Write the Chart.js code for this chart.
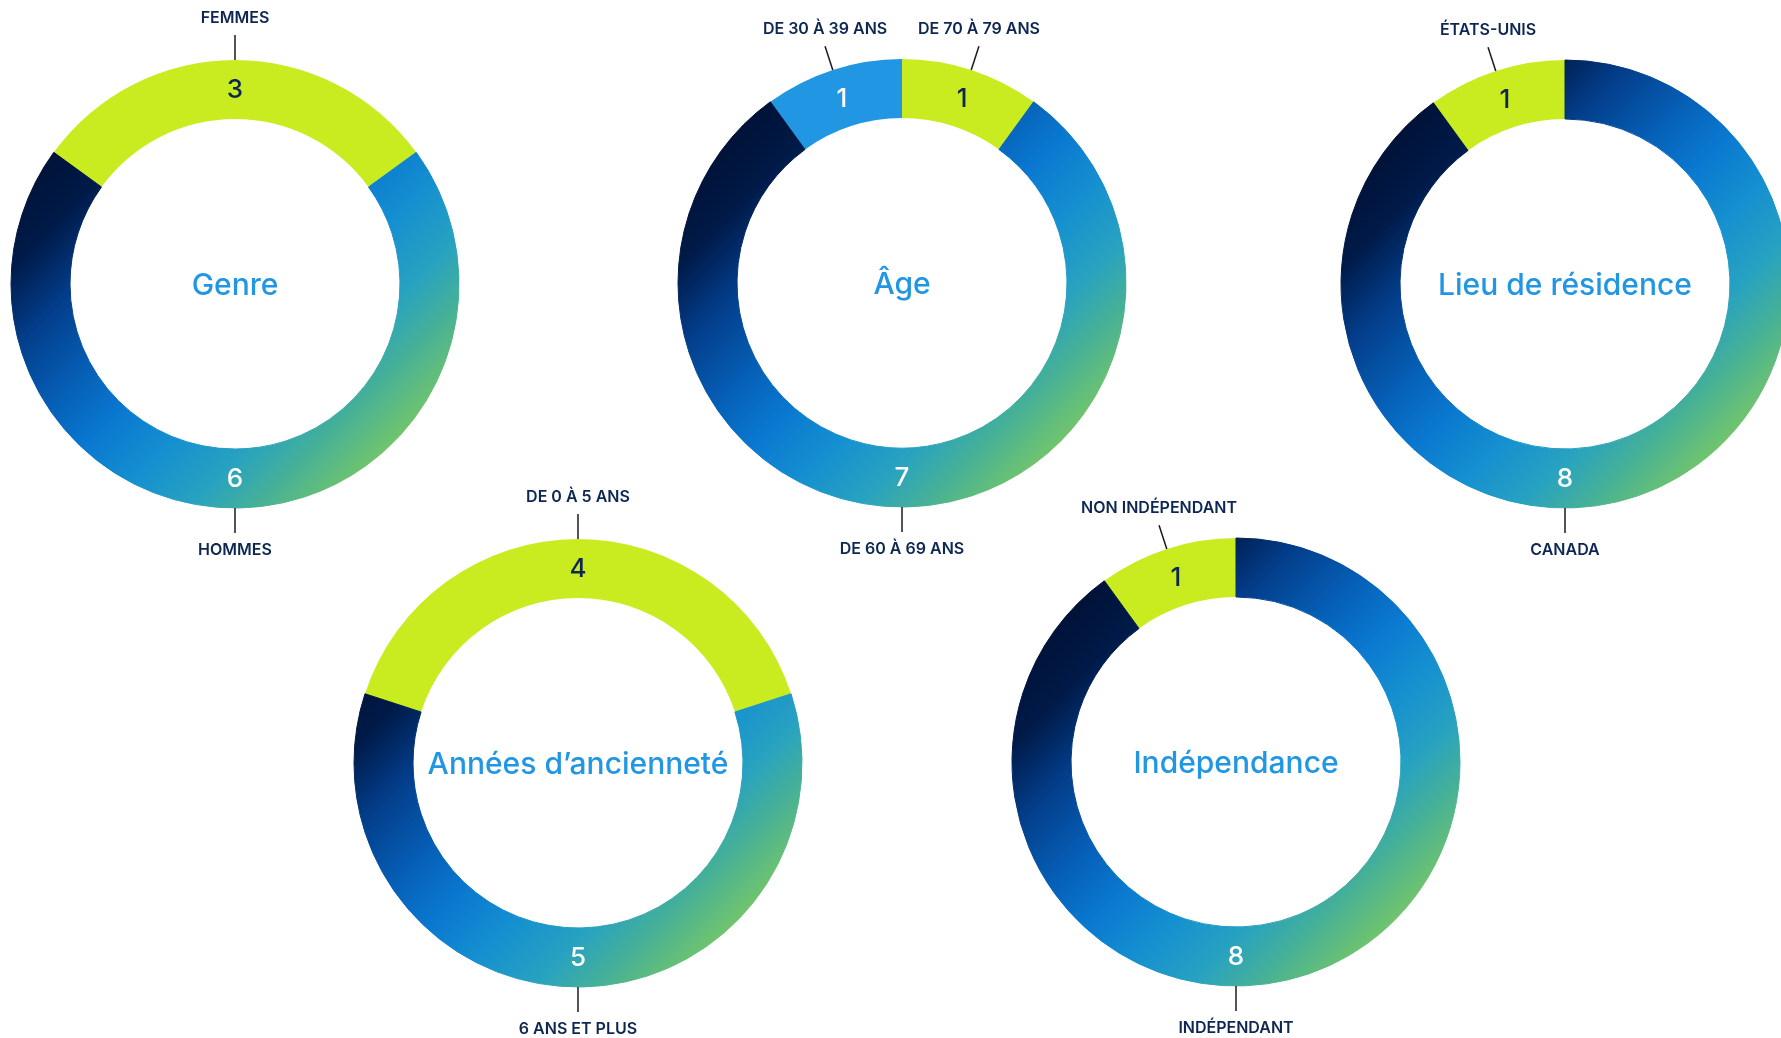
<!DOCTYPE html>
<html lang="fr">
<head>
<meta charset="utf-8">
<title>Composition du conseil</title>
<script src="https://cdn.jsdelivr.net/npm/chart.js@4.4.1/dist/chart.umd.min.js"></script>
<style>
  html, body { margin: 0; padding: 0; background: #fff; }
  #board { position: relative; width: 1781px; height: 1038px; overflow: hidden; }
  #board canvas { position: absolute; }
</style>
</head>
<body>
<div id="board">
  <canvas id="c-genre" width="600" height="600"></canvas>
  <canvas id="c-age" width="600" height="600"></canvas>
  <canvas id="c-lieu" width="600" height="600"></canvas>
  <canvas id="c-anciennete" width="600" height="600"></canvas>
  <canvas id="c-independance" width="600" height="600"></canvas>
</div>
<script>
// ── Data ──────────────────────────────────
const TOTAL_MEMBRES = 10;

const genreLabels = ['FEMMES', 'HOMMES'];
const genreValues = [3, 6];

const ageLabels = ['DE 30 À 39 ANS', 'DE 70 À 79 ANS', 'DE 60 À 69 ANS'];
const ageValues = [1, 1, 7];

const lieuLabels = ['ÉTATS-UNIS', 'CANADA'];
const lieuValues = [1, 8];

const ancienneteLabels = ['DE 0 À 5 ANS', '6 ANS ET PLUS'];
const ancienneteValues = [4, 5];

const independanceLabels = ['NON INDÉPENDANT', 'INDÉPENDANT'];
const independanceValues = [1, 8];

// ── Styles ────────────────────────────────
const GREEN = '#c9ec21';
const BLUE = '#2196e3';
const NAVY_TEXT = '#0e2752';
const TITLE_COLOR = '#2196e3';
const FONT = "Inter, 'Noto Sans', sans-serif";
const OUTER_R = 224;
const INNER_R = 165;

const charts = [
  { id: 'c-genre', cx: 235, cy: 284, title: 'Genre', labels: genreLabels, values: genreValues,
    fills: ['green', 'grad'], rotation: -54 },
  { id: 'c-age', cx: 902, cy: 283, title: 'Âge', labels: ageLabels, values: ageValues,
    fills: ['blue', 'green', 'grad'], rotation: -36 },
  { id: 'c-lieu', cx: 1565, cy: 284, title: 'Lieu de résidence', labels: lieuLabels, values: lieuValues,
    fills: ['green', 'grad'], rotation: -36 },
  { id: 'c-anciennete', cx: 578, cy: 763, title: 'Années d’ancienneté', labels: ancienneteLabels, values: ancienneteValues,
    fills: ['green', 'grad'], rotation: -72 },
  { id: 'c-independance', cx: 1236, cy: 762, title: 'Indépendance', labels: independanceLabels, values: independanceValues,
    fills: ['green', 'grad'], rotation: -36 },
];

// ── Gradient fill for the large segment ───
function ringGradient(chart) {
  const area = chart.chartArea;
  if (!area) return '#0a5fb0';
  const cx = (area.left + area.right) / 2;
  const cy = (area.top + area.bottom) / 2;
  const d = OUTER_R / Math.SQRT2;
  const g = chart.ctx.createLinearGradient(cx - d, cy - d, cx + d, cy + d);
  g.addColorStop(0, '#001238');
  g.addColorStop(0.12, '#001a48');
  g.addColorStop(0.25, '#033d8a');
  g.addColorStop(0.4, '#065fb6');
  g.addColorStop(0.52, '#0a78d0');
  g.addColorStop(0.65, '#1590d0');
  g.addColorStop(0.78, '#28a2c0');
  g.addColorStop(0.88, '#45b098');
  g.addColorStop(1, '#70c46c');
  return g;
}

function fillFor(kind, chart) {
  if (kind === 'green') return GREEN;
  if (kind === 'blue') return BLUE;
  return ringGradient(chart);
}

// ── Labels, numbers and title ─────────────
const ringLabels = {
  id: 'ringLabels',
  afterDatasetsDraw(chart, args, opts) {
    const { ctx } = chart;
    const arcs = chart.getDatasetMeta(0).data;
    const cx = arcs[0].x, cy = arcs[0].y;
    const rOut = arcs[0].outerRadius, rIn = arcs[0].innerRadius;
    const rMid = (rOut + rIn) / 2;

    ctx.save();
    ctx.textAlign = 'center';
    ctx.textBaseline = 'middle';

    opts.values.forEach((v, i) => {
      const big = opts.fills[i] === 'grad';
      const arc = arcs[i];
      // chart.js angles start at 3 o'clock; big segment label sits at the bottom
      const a = big ? Math.PI / 2 : (arc.startAngle + arc.endAngle) / 2;
      const cos = Math.cos(a), sin = Math.sin(a);

      // value in the ring
      ctx.font = `500 26px ${FONT}`;
      ctx.fillStyle = opts.fills[i] === 'green' ? NAVY_TEXT : '#ffffff';
      ctx.fillText(String(v), cx + cos * rMid, cy + sin * rMid + 1);

      // leader line
      const x1 = cx + cos * rOut, y1 = cy + sin * rOut;
      const x2 = cx + cos * (rOut + 25), y2 = cy + sin * (rOut + 25);
      ctx.strokeStyle = '#1b1b1b';
      ctx.lineWidth = 1.5;
      ctx.beginPath();
      ctx.moveTo(x1, y1);
      ctx.lineTo(x2, y2);
      ctx.stroke();

      // category label
      ctx.font = `600 16px ${FONT}`;
      ctx.fillStyle = NAVY_TEXT;
      const dy = sin < 0 ? -17 : 17;
      ctx.fillText(opts.labels[i], x2, y2 + dy);
    });

    ctx.font = `500 30px ${FONT}`;
    ctx.fillStyle = TITLE_COLOR;
    ctx.fillText(opts.title, cx, cy + 2);
    ctx.restore();
  },
};

// ── Build charts ──────────────────────────
charts.forEach(cfg => {
  const canvas = document.getElementById(cfg.id);
  canvas.style.left = (cfg.cx - 300) + 'px';
  canvas.style.top = (cfg.cy - 300) + 'px';

  const sum = cfg.values.reduce((s, v) => s + v, 0);
  const data = cfg.values.concat([TOTAL_MEMBRES - sum]);
  const fills = cfg.fills.concat(['grad']);

  new Chart(canvas, {
    type: 'doughnut',
    data: {
      labels: cfg.labels.concat(['']),
      datasets: [{
        data,
        backgroundColor: (c) => fillFor(fills[c.dataIndex], c.chart),
        borderColor: (c) => fillFor(fills[c.dataIndex], c.chart),
        borderWidth: fills.map(f => (f === 'grad' ? 1 : 0)),
      }],
    },
    options: {
      responsive: false,
      animation: false,
      events: [],
      rotation: cfg.rotation,
      radius: OUTER_R,
      cutout: (INNER_R / OUTER_R * 100).toFixed(2) + '%',
      layout: { padding: 0 },
      plugins: {
        legend: { display: false },
        tooltip: { enabled: false },
        ringLabels: { values: cfg.values, labels: cfg.labels, fills: cfg.fills, title: cfg.title },
      },
    },
    plugins: [ringLabels],
  });
});
</script>
</body>
</html>
